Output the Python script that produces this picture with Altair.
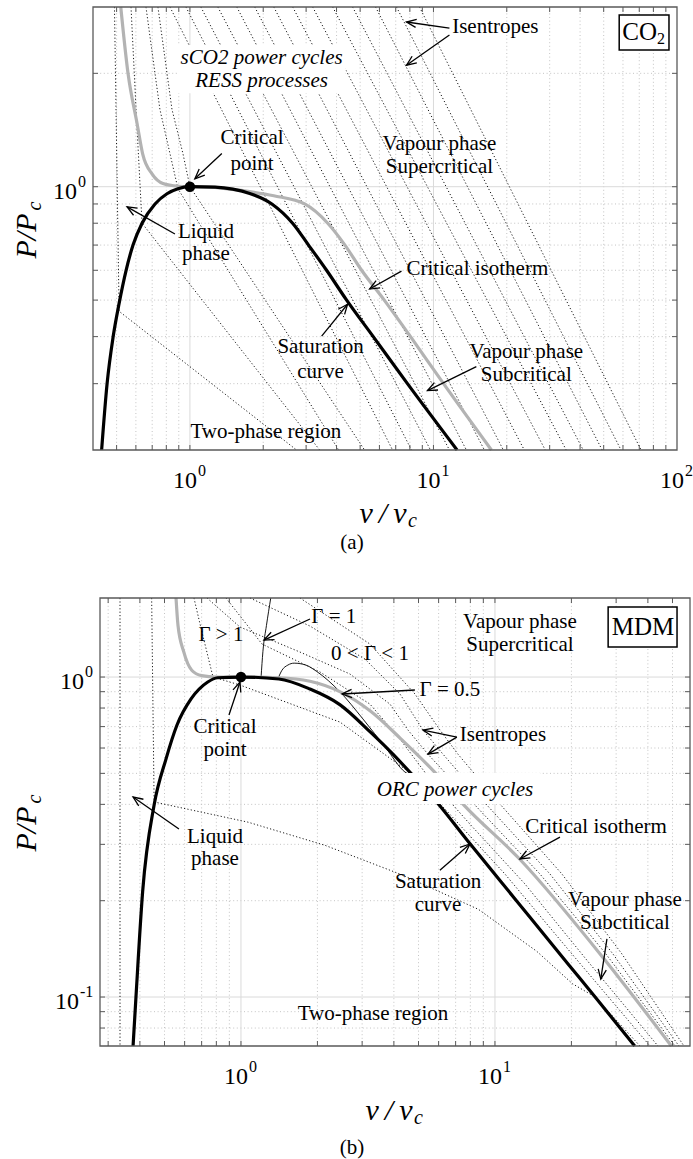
import math
import altair as alt
import pandas as pd

SERIF = "Liberation Serif, Times New Roman, Times, serif"
PAGE_W, PAGE_H = 693, 1159

# ---------------- panel (a): CO2 ----------------
a_xdom, a_ydom = [0.4, 100.0], [0.2, 3.0]
a_xrng, a_yrng = [93, 677], [446, 3]

a_sat_v = [0.434, 0.457, 0.484, 0.512, 0.547, 0.584, 0.636, 0.719, 0.805, 0.893, 1.0,
           1.27, 1.5, 1.76, 2.17, 2.64, 3.07, 3.64, 4.4, 5.66, 7.82, 12.5]
a_sat_p = [0.2, 0.3, 0.4, 0.49, 0.6, 0.7, 0.8, 0.9, 0.958, 0.988, 1.0,
           0.997, 0.985, 0.96, 0.9, 0.8, 0.7, 0.6, 0.5, 0.4, 0.3, 0.2]
a_crit_v = [0.52, 0.557, 0.607, 0.64, 0.70, 0.775, 0.9, 1.0, 1.2, 1.65, 2.21, 2.96,
            3.68, 4.33, 5.07, 6.28, 8.05, 11.0, 17.3]
a_crit_p = [3.0, 2.0, 1.47, 1.22, 1.08, 1.02, 1.003, 1.0, 0.998, 0.976, 0.946, 0.9,
            0.8, 0.7, 0.6, 0.5, 0.4, 0.3, 0.2]

a_isen = [
    ([0.49, 0.512, 2.74], [3.0, 0.467, 0.2]),
    ([0.573, 0.601, 0.636, 3.41], [3.0, 1.604, 0.8, 0.2]),
    ([0.660, 0.753, 0.828, 0.893, 4.08], [3.0, 1.604, 1.225, 0.988, 0.2]),
    ([0.739, 0.844, 0.936, 1.0, 5.213], [3.0, 1.604, 1.225, 1.0, 0.2]),
    ([0.828, 6.79], [3.0, 0.2]),
    ([0.963, 8.124], [3.0, 0.2]),
    ([1.109, 9.72], [3.0, 0.2]),
    ([1.302, 11.63], [3.0, 0.2]),
    ([1.558, 13.65], [3.0, 0.2]),
    ([1.846, 16.18], [3.0, 0.2]),
    ([2.210, 19.36], [3.0, 0.2]),
    ([2.643, 23.6], [3.0, 0.2]),
    ([3.192, 28.78], [3.0, 0.2]),
    ([3.856, 35.08], [3.0, 0.2]),
    ([4.656, 41.19], [3.0, 0.2]),
    ([5.784, 49.28], [3.0, 0.2]),
    ([7.052, 58.9], [3.0, 0.2]),
    ([8.763, 71.2], [3.0, 0.2]),
]

a_notes = [
    (1.97, 2.19, "sCO2 power cycles", "italic"),
    (1.97, 1.905, "RESS processes", "italic"),
    (1.80, 1.343, "Critical", "normal"), (1.80, 1.152, "point", "normal"),
    (1.163, 0.759, "Liquid", "normal"), (1.163, 0.663, "phase", "normal"),
    (17.95, 2.655, "Isentropes", "normal"),
    (10.58, 1.302, "Vapour phase", "normal"), (10.58, 1.131, "Supercritical", "normal"),
    (15.15, 0.604, "Critical isotherm", "normal"),
    (3.44, 0.3745, "Saturation", "normal"), (3.44, 0.323, "curve", "normal"),
    (24.05, 0.365, "Vapour phase", "normal"), (24.05, 0.317, "Subcritical", "normal"),
    (2.05, 0.2235, "Two-phase region", "normal"),
]
a_arrows = [
    (1.352, 1.225, 1.048, 1.05),
    (0.868, 0.749, 0.552, 0.884),
    (11.63, 2.638, 7.75, 2.737),
    (11.63, 2.527, 7.75, 2.102),
    (7.39, 0.597, 5.47, 0.535),
    (3.475, 0.401, 4.44, 0.4875),
    (15.0, 0.333, 9.45, 0.2875),
]
a_xticks = [0.5, 0.6, 0.7, 0.8, 0.9, 1, 2, 3, 4, 5, 6, 7, 8, 9, 10,
            20, 30, 40, 50, 60, 70, 80, 90]
a_yticks = [0.3, 0.4, 0.5, 0.6, 0.7, 0.8, 0.9, 1, 2]
a_xmajor, a_ymajor = [1, 10], [1]
a_xlabels = [(1, "0"), (10, "1"), (100, "2")]
a_ylabels = [(1, "0")]

# ---------------- panel (b): MDM ----------------
b_xdom, b_ydom = [0.2786, 58.6], [0.0703, 1.766]
b_xrng, b_yrng = [100, 690], [1042, 594]

b_sat_v = [0.376, 0.386, 0.41, 0.455, 0.507, 0.56, 0.636, 0.74, 0.81, 1.0,
           1.41, 1.87, 2.45, 3.25, 4.0, 4.67, 5.85, 8.01, 12.15, 19.54, 24.8, 35.5]
b_sat_p = [0.0703, 0.1, 0.213, 0.398, 0.555, 0.708, 0.854, 0.965, 0.995, 1.0,
           0.986, 0.917, 0.82, 0.67, 0.57, 0.50, 0.41, 0.30, 0.20, 0.126, 0.1, 0.0703]
b_crit_v = [0.555, 0.565, 0.595, 0.64, 0.7, 0.8, 1.0, 1.41, 1.87, 2.45, 3.25, 4.27,
            5.85, 7.5, 12.5, 27.0, 49.5]
b_crit_p = [1.766, 1.45, 1.2, 1.05, 1.01, 1.0, 1.0, 0.995, 0.97, 0.9, 0.78, 0.64,
            0.5, 0.4, 0.27, 0.131, 0.0703]
b_gamma1_v = [1.31, 1.26, 1.22, 1.20]
b_gamma1_p = [1.766, 1.45, 1.2, 1.0]
b_gamma05_v = [1.40, 1.45, 1.53, 1.62, 1.8, 1.99, 2.45, 3.02, 3.72, 4.42, 4.6]
b_gamma05_p = [0.99, 1.05, 1.09, 1.105, 1.09, 1.04, 0.9, 0.74, 0.6, 0.505, 0.495]

b_isen = [
    ([0.334, 0.334], [1.766, 0.0703]),
    ([0.445, 0.455, 1.065, 2.14, 4.3, 8.6, 14.6, 20.2, 24.8, 37.23],
     [1.766, 0.407, 0.352, 0.298, 0.241, 0.188, 0.139, 0.110, 0.100, 0.0703]),
    ([0.653, 0.690, 0.776, 0.991, 2.454, 4.585, 6.356, 10.95, 20.1, 40.76],
     [1.766, 1.464, 1.0, 0.944, 0.723, 0.505, 0.387, 0.2423, 0.1363, 0.0703]),
    ([0.873, 1.21, 2.047, 3.22, 4.227, 5.548, 7.97, 13.13, 22.82, 43.83],
     [1.766, 1.268, 1.037, 0.823, 0.640, 0.480, 0.347, 0.2255, 0.1314, 0.0703]),
    ([0.735, 0.991, 1.707, 2.686, 3.86, 4.544, 5.447, 8.267, 15.04, 27.35, 51.14],
     [1.766, 1.433, 1.197, 1.022, 0.823, 0.683, 0.574, 0.401, 0.2423, 0.1363, 0.0703]),
    ([1.085, 1.869, 3.077, 4.227, 5.206, 6.243, 9.217, 16.47, 29.15, 53.02],
     [1.766, 1.443, 1.138, 0.885, 0.683, 0.574, 0.401, 0.2423, 0.1363, 0.0703]),
    ([1.707, 3.22, 4.842, 6.074, 7.151, 10.46, 18.36, 31.62, 55.48],
     [1.766, 1.268, 0.885, 0.683, 0.574, 0.401, 0.2423, 0.1363, 0.0703]),
]

b_notes = [
    (0.834, 1.353, "Γ > 1", "normal"),
    (2.32, 1.54, "Γ = 1", "normal"),
    (3.22, 1.18, "0 < Γ < 1", "normal"),
    (12.54, 1.485, "Vapour phase", "normal"), (12.54, 1.259, "Supercritical", "normal"),
    (6.65, 0.911, "Γ = 0.5", "normal"),
    (0.865, 0.698, "Critical", "normal"), (0.865, 0.591, "point", "normal"),
    (10.75, 0.659, "Isentropes", "normal"),
    (6.96, 0.4434, "ORC power cycles", "italic"),
    (0.79, 0.316, "Liquid", "normal"), (0.79, 0.27, "phase", "normal"),
    (25.0, 0.34, "Critical isotherm", "normal"),
    (5.97, 0.2287, "Saturation", "normal"), (5.97, 0.194, "curve", "normal"),
    (32.5, 0.201, "Vapour phase", "normal"), (32.5, 0.1703, "Subctitical", "normal"),
    (3.31, 0.0885, "Two-phase region", "normal"),
]
b_arrows = [
    (1.87, 1.518, 1.232, 1.305),
    (4.84, 0.911, 2.50, 0.885),
    (0.897, 0.761, 0.991, 0.965),
    (7.08, 0.649, 5.21, 0.683),
    (7.08, 0.649, 5.45, 0.5744),
    (0.570, 0.335, 0.376, 0.4217),
    (18.03, 0.316, 12.54, 0.27),
    (6.07, 0.249, 7.97, 0.3008),
    (27.6, 0.152, 26.1, 0.1138),
]
b_xticks = [0.3, 0.4, 0.5, 0.6, 0.7, 0.8, 0.9, 1, 2, 3, 4, 5, 6, 7, 8, 9, 10,
            20, 30, 40, 50]
b_yticks = [0.08, 0.09, 0.1, 0.2, 0.3, 0.4, 0.5, 0.6, 0.7, 0.8, 0.9, 1]
b_xmajor, b_ymajor = [1, 10], [0.1, 1]
b_xlabels = [(1, "0"), (10, "1")]
b_ylabels = [(1, "0"), (0.1, "-1")]


def to_px(val, dom, rng):
    t = (math.log10(val) - math.log10(dom[0])) / (math.log10(dom[1]) - math.log10(dom[0]))
    return rng[0] + t * (rng[1] - rng[0])


def curve_df(curves):
    rows = []
    for k, (vs, ps) in enumerate(curves):
        for i, (v, p) in enumerate(zip(vs, ps)):
            rows.append({"id": k, "i": i, "v": v, "p": p})
    return pd.DataFrame(rows)


def build_panel(cfg):
    xs = alt.Scale(type="log", domain=cfg["xdom"], range=cfg["xrng"])
    ys = alt.Scale(type="log", domain=cfg["ydom"], range=cfg["yrng"])

    def X(f):
        return alt.X(f, type="quantitative", scale=xs, axis=None)

    def Y(f):
        return alt.Y(f, type="quantitative", scale=ys, axis=None)

    x0, x1 = cfg["xrng"]
    yb, yt = cfg["yrng"]
    layers = []

    # grid
    minor_x = [v for v in cfg["xticks"] if v not in cfg["xmajor"]]
    minor_y = [p for p in cfg["yticks"] if p not in cfg["ymajor"]]
    gx = pd.DataFrame({"v": minor_x, "p0": cfg["ydom"][0], "p1": cfg["ydom"][1]})
    gy = pd.DataFrame({"p": minor_y, "v0": cfg["xdom"][0], "v1": cfg["xdom"][1]})
    Gx = pd.DataFrame({"v": cfg["xmajor"], "p0": cfg["ydom"][0], "p1": cfg["ydom"][1]})
    Gy = pd.DataFrame({"p": cfg["ymajor"], "v0": cfg["xdom"][0], "v1": cfg["xdom"][1]})
    dot = dict(color="#bdbdbd", strokeWidth=0.9, strokeDash=[1, 2.6])
    solid = dict(color="#dadada", strokeWidth=1)
    layers.append(alt.Chart(gx).mark_rule(**dot).encode(x=X("v"), y=Y("p0"), y2="p1"))
    layers.append(alt.Chart(gy).mark_rule(**dot).encode(y=Y("p"), x=X("v0"), x2="v1"))
    layers.append(alt.Chart(Gx).mark_rule(**solid).encode(x=X("v"), y=Y("p0"), y2="p1"))
    layers.append(alt.Chart(Gy).mark_rule(**solid).encode(y=Y("p"), x=X("v0"), x2="v1"))

    # isentropes
    layers.append(alt.Chart(curve_df(cfg["isen"])).mark_line(
        color="black", strokeWidth=0.9, strokeDash=[1.2, 2.2]).encode(
        x=X("v"), y=Y("p"), detail="id:N", order="i:Q"))

    # fundamental derivative contours
    if cfg.get("gamma"):
        layers.append(alt.Chart(curve_df(cfg["gamma"])).mark_line(
            color="black", strokeWidth=0.9, interpolate="monotone").encode(
            x=X("v"), y=Y("p"), detail="id:N", order="i:Q"))

    # critical isotherm and saturation curve
    layers.append(alt.Chart(curve_df([cfg["crit"]])).mark_line(
        color="#b3b3b3", strokeWidth=3.2, interpolate="monotone").encode(
        x=X("v"), y=Y("p"), order="i:Q"))
    layers.append(alt.Chart(curve_df([cfg["sat"]])).mark_line(
        color="black", strokeWidth=3.2, interpolate="monotone").encode(
        x=X("v"), y=Y("p"), order="i:Q"))

    # white patches behind italic labels
    for (va, vb, pa, pb) in cfg["patches"]:
        layers.append(alt.Chart(pd.DataFrame({"v0": [va], "v1": [vb], "p0": [pa], "p1": [pb]}))
                      .mark_rect(fill="white").encode(x=X("v0"), x2="v1", y=Y("p0"), y2="p1"))

    # critical point
    layers.append(alt.Chart(pd.DataFrame({"v": [1.0], "p": [1.0]})).mark_point(
        filled=True, color="black", size=110, opacity=1).encode(x=X("v"), y=Y("p")))

    # annotation arrows
    arr = []
    for (v0, p0, v1, p1) in cfg["arrows"]:
        dx = to_px(v1, cfg["xdom"], cfg["xrng"]) - to_px(v0, cfg["xdom"], cfg["xrng"])
        dy = to_px(p1, cfg["ydom"], cfg["yrng"]) - to_px(p0, cfg["ydom"], cfg["yrng"])
        arr.append({"v0": v0, "p0": p0, "v1": v1, "p1": p1,
                    "ang": math.degrees(math.atan2(dy, dx)) % 360})
    arr = pd.DataFrame(arr)
    layers.append(alt.Chart(arr).mark_rule(color="black", strokeWidth=1.3).encode(
        x=X("v0"), y=Y("p0"), x2="v1", y2="p1"))
    layers.append(alt.Chart(arr).mark_point(
        shape="M-1,-0.42L0,0L-1,0.42", filled=False, color="black", strokeWidth=1.3,
        size=380, opacity=1).encode(
        x=X("v1"), y=Y("p1"), angle=alt.Angle("ang:Q", scale=None)))

    # annotation text
    notes = pd.DataFrame(cfg["notes"], columns=["v", "p", "t", "style"])
    for style in ["normal", "italic"]:
        sub = notes[notes["style"] == style]
        if len(sub):
            layers.append(alt.Chart(sub).mark_text(
                font=SERIF, fontSize=21, fontStyle=style, color="black",
                align="center", baseline="middle").encode(x=X("v"), y=Y("p"), text="t:N"))

    # legend box with fluid name
    bx = cfg["box"]
    layers.append(alt.Chart(pd.DataFrame({"v0": [bx[0]], "v1": [bx[1]], "p0": [bx[2]], "p1": [bx[3]]}))
                  .mark_rect(fill="white", stroke="black", strokeWidth=1.5).encode(
                      x=X("v0"), x2="v1", y=Y("p0"), y2="p1"))
    for (v, p, t, fs, dy, al) in cfg["boxtext"]:
        layers.append(alt.Chart(pd.DataFrame({"v": [v], "p": [p], "t": [t]})).mark_text(
            font=SERIF, fontSize=fs, dy=dy, align=al, baseline="middle", color="black").encode(
            x=X("v"), y=Y("p"), text="t:N"))

    # frame
    layers.append(alt.Chart(pd.DataFrame({"v0": [cfg["xdom"][0]], "v1": [cfg["xdom"][1]],
                                          "p0": [cfg["ydom"][0]], "p1": [cfg["ydom"][1]]}))
                  .mark_rect(fill=None, filled=False, stroke="#5a5a5a", strokeWidth=1.3).encode(
                      x=X("v0"), x2="v1", y=Y("p0"), y2="p1"))

    # inward ticks on all four sides
    tkx = pd.DataFrame({"v": cfg["xticks"]})
    tky = pd.DataFrame({"p": cfg["yticks"]})
    tick = dict(color="#5a5a5a", strokeWidth=1)
    layers.append(alt.Chart(tkx).mark_rule(**tick).encode(x=X("v"), y=alt.value(yb), y2=alt.value(yb - 5)))
    layers.append(alt.Chart(tkx).mark_rule(**tick).encode(x=X("v"), y=alt.value(yt), y2=alt.value(yt + 5)))
    layers.append(alt.Chart(tky).mark_rule(**tick).encode(y=Y("p"), x=alt.value(x0), x2=alt.value(x0 + 5)))
    layers.append(alt.Chart(tky).mark_rule(**tick).encode(y=Y("p"), x=alt.value(x1), x2=alt.value(x1 - 5)))

    # decade tick labels 10^n
    xl = pd.DataFrame(cfg["xlabels"], columns=["v", "e"])
    layers.append(alt.Chart(xl).mark_text(font=SERIF, fontSize=24, align="right", baseline="middle",
                                          dx=7, color="black").encode(
        x=X("v"), y=alt.value(yb + 31), text=alt.value("10")))
    layers.append(alt.Chart(xl).mark_text(font=SERIF, fontSize=16, align="left", baseline="middle",
                                          dx=8, color="black").encode(
        x=X("v"), y=alt.value(yb + 21), text="e:N"))
    yl = pd.DataFrame(cfg["ylabels"], columns=["p", "e"])
    for _, row in yl.iterrows():
        xe = x0 - 16 if row["e"] == "0" else x0 - 21
        one_row = pd.DataFrame({"p": [row["p"]], "e": [row["e"]]})
        layers.append(alt.Chart(one_row).mark_text(
            font=SERIF, fontSize=24, align="right", baseline="middle", dy=5, color="black").encode(
            y=Y("p"), x=alt.value(xe), text=alt.value("10")))
        layers.append(alt.Chart(one_row).mark_text(
            font=SERIF, fontSize=16, align="left", baseline="middle", dy=-5, color="black").encode(
            y=Y("p"), x=alt.value(xe + 1), text="e:N"))

    # axis titles and caption
    tt = cfg["titles"]
    one = pd.DataFrame({"k": [0]})
    layers.append(alt.Chart(one).mark_text(font=SERIF, fontSize=30, fontStyle="italic",
                                           align="center", baseline="middle", color="black").encode(
        x=alt.value(tt["xt"][0]), y=alt.value(tt["xt"][1]), text=alt.value("v\u2009/\u2009v")))
    layers.append(alt.Chart(one).mark_text(font=SERIF, fontSize=20, fontStyle="italic",
                                           align="left", baseline="middle", color="black").encode(
        x=alt.value(tt["xt"][0] + 25), y=alt.value(tt["xt"][1] + 7), text=alt.value("c")))
    layers.append(alt.Chart(one).mark_text(font=SERIF, fontSize=30, fontStyle="italic", angle=270,
                                           align="center", baseline="middle", color="black").encode(
        x=alt.value(tt["yt"][0]), y=alt.value(tt["yt"][1]), text=alt.value("P/P")))
    layers.append(alt.Chart(one).mark_text(font=SERIF, fontSize=20, fontStyle="italic", angle=270,
                                           align="center", baseline="middle", color="black").encode(
        x=alt.value(tt["yt"][0] + 8), y=alt.value(tt["yt"][1] - 30), text=alt.value("c")))
    layers.append(alt.Chart(one).mark_text(font=SERIF, fontSize=21, align="center",
                                           baseline="middle", color="black").encode(
        x=alt.value(tt["cap"][0]), y=alt.value(tt["cap"][1]), text=alt.value(tt["cap"][2])))

    return alt.layer(*layers)


panel_a = build_panel(dict(
    xdom=a_xdom, ydom=a_ydom, xrng=a_xrng, yrng=a_yrng,
    sat=(a_sat_v, a_sat_p), crit=(a_crit_v, a_crit_p), isen=a_isen, gamma=None,
    notes=a_notes, arrows=a_arrows, xticks=a_xticks, yticks=a_yticks,
    xmajor=a_xmajor, ymajor=a_ymajor, xlabels=a_xlabels, ylabels=a_ylabels,
    patches=[(0.893, 4.36, 1.77, 2.377)],
    box=(57.9, 92.7, 2.305, 2.858),
    boxtext=[(82.8, 2.575, "CO", 25, 0, "right"), (82.8, 2.575, "2", 16, 7, "left")],
    titles=dict(xt=(383, 510), yt=(27, 232), cap=(352, 539, "(a)")),
))

panel_b = build_panel(dict(
    xdom=b_xdom, ydom=b_ydom, xrng=b_xrng, yrng=b_yrng,
    sat=(b_sat_v, b_sat_p), crit=(b_crit_v, b_crit_p), isen=b_isen,
    gamma=[(b_gamma1_v, b_gamma1_p), (b_gamma05_v, b_gamma05_p)],
    notes=b_notes, arrows=b_arrows, xticks=b_xticks, yticks=b_yticks,
    xmajor=b_xmajor, ymajor=b_ymajor, xlabels=b_xlabels, ylabels=b_ylabels,
    patches=[(3.22, 15.04, 0.401, 0.501)],
    box=(27.9, 52.1, 1.241, 1.654),
    boxtext=[(38.3, 1.433, "MDM", 25, 0, "center")],
    titles=dict(xt=(389, 1107), yt=(27, 825), cap=(352, 1144, "(b)")),
))

page = alt.Chart(pd.DataFrame({"k": [0]})).mark_rect(fill="white").encode(
    x=alt.value(0), x2=alt.value(PAGE_W), y=alt.value(0), y2=alt.value(PAGE_H))

chart = alt.layer(page, panel_a, panel_b).resolve_scale(
    x="independent", y="independent"
).properties(width=PAGE_W, height=PAGE_H, padding=0).configure_view(stroke=None)
chart.save("out.html", embed_options={"renderer": "svg", "actions": False})
